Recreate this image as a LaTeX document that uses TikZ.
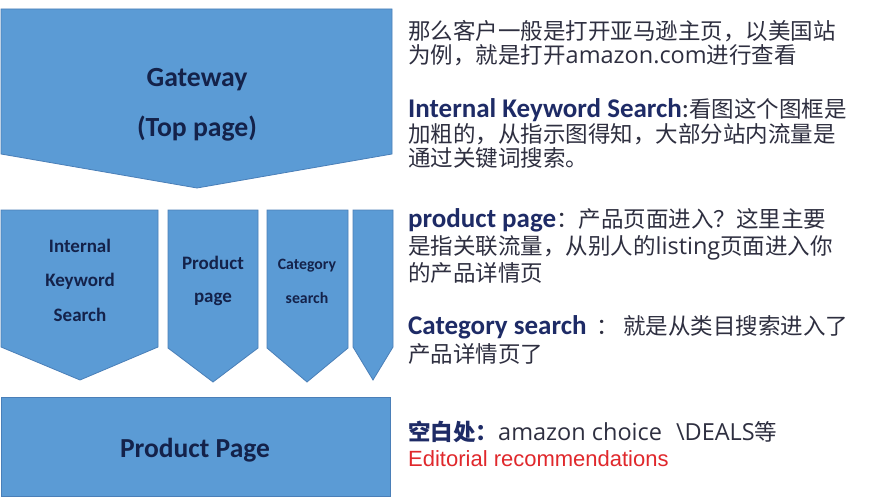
\documentclass[tikz,border=0pt]{standalone}
\usepackage{fontspec}
\setmainfont{Open Sans}
\newfontfamily\cjkfont{Noto Sans CJK SC}
\newfontfamily\calfont{Carlito}
\newfontfamily\arfont{Liberation Sans}
\newfontfamily\osfont{Open Sans}
\definecolor{boxblue}{HTML}{5B9BD5}
\definecolor{boxline}{HTML}{4A7FB8}
\definecolor{boxtext}{HTML}{14224A}
\definecolor{headcol}{HTML}{1E2B66}
\definecolor{bodycol}{HTML}{2E2F40}
\definecolor{redcol}{HTML}{E0282C}
\tikzset{
  chev/.style={fill=boxblue, draw=boxline, line width=0.8pt, line join=miter},
  boxlbl/.style={anchor=base, inner sep=0pt, text=boxtext},
  txt/.style={anchor=base west, inner sep=0pt, text=bodycol, text height=17pt, text depth=5pt},
}
\newcommand{\CJ}[1]{{\cjkfont\fontsize{22.5}{24}\selectfont #1}}
\newcommand{\CJB}[1]{{\cjkfont\bfseries\fontsize{22.5}{24}\selectfont #1}}
\newcommand{\LT}[1]{{\osfont\fontsize{23.5}{24}\selectfont #1}}
\newcommand{\HD}[1]{{\calfont\bfseries\fontsize{27}{24}\selectfont\color{headcol}#1}}
\begin{document}
\begin{tikzpicture}[x=1pt,y=-1pt]
\useasboundingbox (0,0) rectangle (889,500);
\fill[white] (0,0) rectangle (889,500);

% shapes
\draw[chev] (1,9) -- (392,9) -- (392,154) -- (197,188) -- (1,154) -- cycle;
\draw[chev] (1,210) -- (158,210) -- (158,347) -- (80,380) -- (1,347) -- cycle;
\draw[chev] (168,210) -- (258,210) -- (258,348) -- (213,382) -- (168,348) -- cycle;
\draw[chev] (267,210) -- (348,210) -- (348,348) -- (307,382) -- (267,348) -- cycle;
\draw[chev] (353,210) -- (393,210) -- (393,347) -- (373,380) -- (353,347) -- cycle;
\draw[chev] (1,397) rectangle (390,496);

% box labels
\node[boxlbl, font=\calfont\bfseries\fontsize{27.7}{27}\selectfont] (gw1) at (197,87) {Gateway};
\node[boxlbl, font=\calfont\bfseries\fontsize{27.7}{27}\selectfont] (gw2) at (197,137) {(Top page)};
\node[boxlbl, font=\calfont\bfseries\fontsize{19}{19}\selectfont] (ik1) at (80,252) {Internal};
\node[boxlbl, font=\calfont\bfseries\fontsize{19}{19}\selectfont] (ik2) at (80,286) {Keyword};
\node[boxlbl, font=\calfont\bfseries\fontsize{19}{19}\selectfont] (ik3) at (80,321) {Search};
\node[boxlbl, font=\calfont\bfseries\fontsize{19}{19}\selectfont] (pp1) at (213,269) {Product};
\node[boxlbl, font=\calfont\bfseries\fontsize{19}{19}\selectfont] (pp2) at (213,302) {page};
\node[boxlbl, font=\calfont\bfseries\fontsize{15.8}{16}\selectfont] (cs1) at (307,269) {Category};
\node[boxlbl, font=\calfont\bfseries\fontsize{15.8}{16}\selectfont] (cs2) at (307,303) {search};
\node[boxlbl, font=\calfont\bfseries\fontsize{27.5}{27}\selectfont] (pb) at (195,457) {Product Page};

% right-hand notes
\node[txt] (a1) at (408,40) {\CJ{那么客户一般是打开亚马逊主页，以美国站}};
\node[txt] (a2) at (408,63.5) {\CJ{为例，就是打开}\LT{amazon.com}\CJ{进行查看}};

\node[txt] (b1) at (408,117.5) {\HD{Internal Keyword Search}{\calfont\fontsize{27}{24}\selectfont :}\CJ{看图这个图框是}};
\node[txt] (b2) at (408,142.5) {\CJ{加粗的，从指示图得知，大部分站内流量是}};
\node[txt] (b3) at (408,166.5) {\CJ{通过关键词搜索。}};

\node[txt] (c1) at (408,227) {\HD{product page}\CJ{：产品页面进入？这里主要}};
\node[txt] (c2) at (408,254) {\CJ{是指关联流量，从别人的}\LT{listing}\CJ{页面进入你}};
\node[txt] (c3) at (408,281) {\CJ{的产品详情页}};

\node[txt] (d1) at (408,334) {\HD{Category search}\hspace{10pt}\CJ{：}\hspace{4pt}\CJ{就是从类目搜索进入了}};
\node[txt] (d2) at (408,362) {\CJ{产品详情页了}};

\node[txt] (e1) at (408,440) {{\color{headcol}\CJB{空白处：}}\LT{amazon choice}\hspace{14pt}\LT{\textbackslash DEALS}\CJ{等}};
\node[txt, text=redcol, font=\arfont\fontsize{22}{22}\selectfont] (e2) at (408,466) {Editorial recommendations};
\end{tikzpicture}
\end{document}
